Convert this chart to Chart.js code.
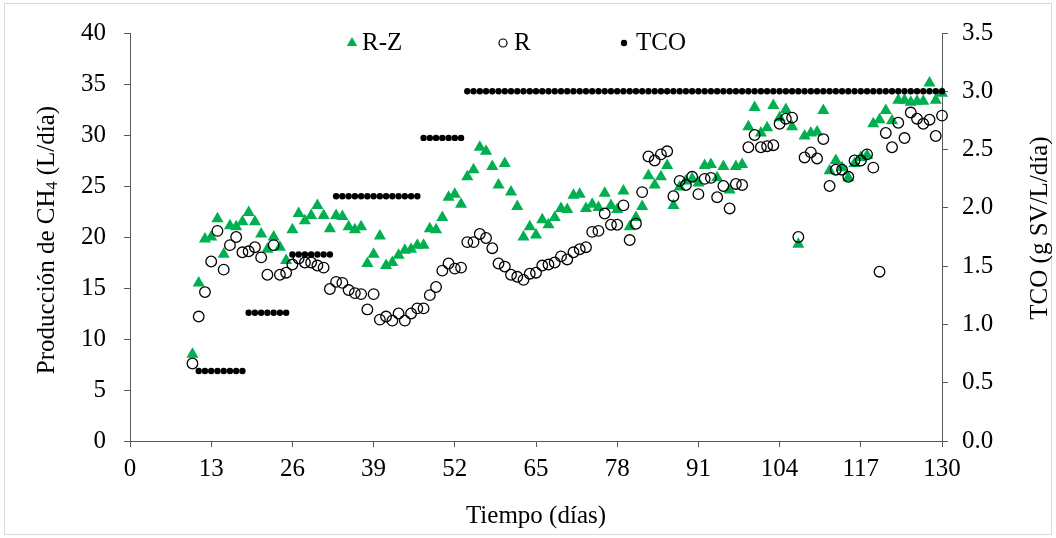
<!DOCTYPE html>
<html><head><meta charset="utf-8">
<script src="https://cdn.jsdelivr.net/npm/chart.js@4.4.1/dist/chart.umd.min.js"></script>
<style>html,body{margin:0;padding:0;background:#fff;overflow:hidden}#wrap{width:1056px;height:538px;position:relative}canvas{display:block}</style>
</head><body><div id="wrap"><canvas id="c" width="1056" height="538"></canvas></div>
<script>
// ---- data ----
const days = [10,11,12,13,14,15,16,17,18,19,20,21,22,23,24,25,26,27,28,29,30,31,32,33,34,35,36,37,38,39,40,41,42,43,44,45,46,47,48,49,50,51,52,53,54,55,56,57,58,59,60,61,62,63,64,65,66,67,68,69,70,71,72,73,74,75,76,77,78,79,80,81,82,83,84,85,86,87,88,89,90,91,92,93,94,95,96,97,98,99,100,101,102,103,104,105,106,107,108,109,110,111,112,113,114,115,116,117,118,119,120,121,122,123,124,125,126,127,128,129,130];
const rzValues = [8.5,15.5,19.8,20.0,21.8,18.3,21.1,21.0,21.5,22.4,21.5,20.3,18.8,20.0,19.0,17.7,20.7,22.3,21.6,22.1,23.1,22.1,20.8,22.1,22.0,21.0,20.7,21.0,17.4,18.3,20.1,17.2,17.5,18.2,18.7,18.8,19.2,19.2,20.8,20.7,21.9,23.9,24.2,23.2,25.9,26.6,28.8,28.4,26.9,25.1,27.2,24.4,23.0,20.0,21.0,20.2,21.7,21.2,21.9,22.8,22.7,24.1,24.2,22.8,23.2,22.9,24.3,23.1,22.7,24.5,21.0,21.9,23.0,26.0,25.1,25.9,27.0,23.1,24.9,25.5,25.7,25.3,27.0,27.1,25.8,26.9,24.6,26.9,27.1,30.8,32.7,30.2,30.7,32.9,31.7,32.5,30.8,19.3,29.9,30.2,30.3,32.4,26.5,27.5,26.8,25.8,27.2,27.8,28.0,31.1,31.5,32.4,31.4,33.4,33.4,33.2,33.3,33.3,35.1,33.4,34.1];
const rValues = [7.6,12.2,14.6,17.6,20.6,16.8,19.2,20.0,18.5,18.6,19.0,18.0,16.3,19.2,16.3,16.5,17.3,17.9,17.5,17.5,17.2,17.0,14.9,15.6,15.5,14.8,14.5,14.4,12.9,14.4,11.9,12.2,11.8,12.5,11.8,12.5,13.0,13.0,14.3,15.1,16.7,17.4,16.9,17.0,19.5,19.5,20.3,19.9,18.9,17.4,17.1,16.3,16.1,15.8,16.4,16.5,17.2,17.3,17.5,18.1,17.8,18.5,18.8,19.0,20.5,20.6,22.3,21.2,21.2,23.1,19.7,21.3,24.4,27.9,27.5,28.1,28.4,24.0,25.5,25.1,25.9,24.2,25.7,25.8,23.9,25.0,22.8,25.2,25.1,28.8,30.0,28.8,28.9,29.0,31.1,31.6,31.7,20.0,27.8,28.3,27.7,29.6,25.0,26.6,26.6,25.9,27.5,27.5,28.1,26.8,16.6,30.2,28.8,31.2,29.7,32.2,31.6,31.1,31.5,29.9,31.9];
const tcoDays = [11,12,13,14,15,16,17,18,19,20,21,22,23,24,25,26,27,28,29,30,31,32,33,34,35,36,37,38,39,40,41,42,43,44,45,46,47,48,49,50,51,52,53,54,55,56,57,58,59,60,61,62,63,64,65,66,67,68,69,70,71,72,73,74,75,76,77,78,79,80,81,82,83,84,85,86,87,88,89,90,91,92,93,94,95,96,97,98,99,100,101,102,103,104,105,106,107,108,109,110,111,112,113,114,115,116,117,118,119,120,121,122,123,124,125,126,127,128,129,130];
const tcoValues = [
 0.6,0.6,0.6,0.6,0.6,0.6,0.6,0.6,
 1.1,1.1,1.1,1.1,1.1,1.1,1.1,
 1.6,1.6,1.6,1.6,1.6,1.6,1.6,
 2.1,2.1,2.1,2.1,2.1,2.1,2.1,2.1,2.1,2.1,2.1,2.1,2.1,2.1,
 2.6,2.6,2.6,2.6,2.6,2.6,2.6,
 3.0,3.0,3.0,3.0,3.0,3.0,3.0,3.0,3.0,3.0,3.0,
 3.0,3.0,3.0,3.0,3.0,3.0,3.0,3.0,3.0,3.0,3.0,
 3.0,3.0,3.0,3.0,3.0,3.0,3.0,3.0,3.0,3.0,3.0,
 3.0,3.0,3.0,3.0,3.0,3.0,3.0,3.0,3.0,3.0,3.0,
 3.0,3.0,3.0,3.0,3.0,3.0,3.0,3.0,3.0,3.0,3.0,
 3.0,3.0,3.0,3.0,3.0,3.0,3.0,3.0,3.0,3.0,3.0,
 3.0,3.0,3.0,3.0,3.0,3.0,3.0,3.0,3.0,3.0,3.0];
const xTicks = [0,13,26,39,52,65,78,91,104,117,130];
const yLeftTicks = [0,5,10,15,20,25,30,35,40];
const yRightTicks = [0,0.5,1.0,1.5,2.0,2.5,3.0,3.5];
const seriesNames = ['R-Z','R','TCO'];
const xTitle = 'Tiempo (días)';
const yLeftTitle = ['Producción de CH','4',' (L/día)'];
const yRightTitle = 'TCO (g SV/L/día)';

// ---- layout / style ----
const W = 1056, H = 538;
const AREA = {left:130, right:942, top:32, bottom:441};
const FONT = 'Liberation Serif, Times New Roman, serif';
const FS = 25;
const AXIS = '#595959';
const GREEN = '#00B050';

const pts = (xs, ys) => xs.map((x,i)=>({x:x, y:ys[i]}));

const decor = {
  id:'decor',
  beforeDraw(chart){
    const ctx = chart.ctx;
    ctx.save();
    ctx.fillStyle='#fff'; ctx.fillRect(0,0,W,H);
    ctx.strokeStyle='#d9d9d9'; ctx.lineWidth=1;
    ctx.strokeRect(4.5,3.5,W-9,H-7);
    ctx.restore();
  },
  afterDraw(chart){
    const ctx = chart.ctx;
    ctx.save();
    ctx.fillStyle='#000';
    ctx.textBaseline='middle';
    // left title with subscript
    ctx.save();
    ctx.translate(47, 240);
    ctx.rotate(-Math.PI/2);
    const big = FS+'px '+FONT, small = Math.round(FS*0.65)+'px '+FONT;
    ctx.font = big; const w1 = ctx.measureText(yLeftTitle[0]).width; const w3 = ctx.measureText(yLeftTitle[2]).width;
    ctx.font = small; const w2 = ctx.measureText(yLeftTitle[1]).width;
    let x0 = -(w1+w2+w3)/2;
    ctx.textAlign='left';
    ctx.font = big; ctx.fillText(yLeftTitle[0], x0, 0);
    ctx.font = small; ctx.fillText(yLeftTitle[1], x0+w1, 6);
    ctx.font = big; ctx.fillText(yLeftTitle[2], x0+w1+w2, 0);
    ctx.restore();
    // right title
    ctx.save();
    ctx.translate(1040, 228);
    ctx.rotate(-Math.PI/2);
    ctx.font = FS+'px '+FONT; ctx.textAlign='center';
    ctx.fillText(yRightTitle, 0, 0);
    ctx.restore();
    // legend
    const ly = 43;
    ctx.font = FS+'px '+FONT; ctx.textAlign='left';
    ctx.fillStyle=GREEN; ctx.beginPath();
    ctx.moveTo(352, ly-6); ctx.lineTo(357.2, ly+3); ctx.lineTo(346.8, ly+3); ctx.closePath(); ctx.fill();
    ctx.fillStyle='#000'; ctx.fillText(seriesNames[0], 362, ly);
    ctx.strokeStyle='#000'; ctx.lineWidth=1.2; ctx.beginPath(); ctx.arc(503, ly, 4, 0, Math.PI*2); ctx.stroke();
    ctx.fillText(seriesNames[1], 514, ly);
    ctx.beginPath(); ctx.arc(624, ly, 3.2, 0, Math.PI*2); ctx.fill();
    ctx.fillText(seriesNames[2], 636, ly);
    ctx.restore();
  }
};

const axisCommon = {
  grid:{display:true, drawOnChartArea:false, drawTicks:true, tickLength:6, color:AXIS, lineWidth:1},
  border:{display:true, color:AXIS, width:1},
};

new Chart(document.getElementById('c'), {
  type:'scatter',
  data:{datasets:[
    {label:seriesNames[0], data:pts(days, rzValues), yAxisID:'y', clip:false, pointStyle:'triangle', pointRadius:7, pointBackgroundColor:GREEN, pointBorderColor:GREEN, pointBorderWidth:0, backgroundColor:GREEN, order:3},
    {label:seriesNames[1], data:pts(days, rValues), yAxisID:'y', clip:false, pointStyle:'circle', pointRadius:5.3, pointBackgroundColor:'rgba(0,0,0,0)', pointBorderColor:'#000', pointBorderWidth:1.3, order:2},
    {label:seriesNames[2], data:pts(tcoDays, tcoValues), yAxisID:'y2', clip:false, pointStyle:'circle', pointRadius:3.2, pointBackgroundColor:'#000', pointBorderColor:'#000', pointBorderWidth:0, order:1}
  ]},
  options:{
    responsive:false, animation:false, events:[], devicePixelRatio:1,
    layout:{padding:{top:AREA.top, left:0, right:0, bottom:0}},
    plugins:{legend:{display:false}, tooltip:{enabled:false}},
    scales:{
      x:{type:'linear', position:'bottom', min:0, max:130, ...axisCommon,
        afterFit(s){ s.height = H - AREA.bottom; },
        afterBuildTicks(s){ s.ticks = xTicks.map(v=>({value:v})); },
        ticks:{color:'#000', font:{family:FONT, size:FS}, padding:7, maxRotation:0, autoSkip:false},
        title:{display:true, text:xTitle, color:'#000', font:{family:FONT, size:FS}, padding:{top:0, bottom:7}}},
      y:{type:'linear', position:'left', min:0, max:40, ...axisCommon,
        afterFit(s){ s.width = AREA.left; },
        afterBuildTicks(s){ s.ticks = yLeftTicks.map(v=>({value:v})); },
        ticks:{color:'#000', font:{family:FONT, size:FS}, padding:18, callback:v=>String(v)}},
      y2:{type:'linear', position:'right', min:0, max:3.5, ...axisCommon,
        afterFit(s){ s.width = W - AREA.right; },
        afterBuildTicks(s){ s.ticks = yRightTicks.map(v=>({value:v})); },
        ticks:{color:'#000', font:{family:FONT, size:FS}, padding:14, callback:v=>Number(v).toFixed(1)}}
    }
  },
  plugins:[decor]
});
</script></body></html>
